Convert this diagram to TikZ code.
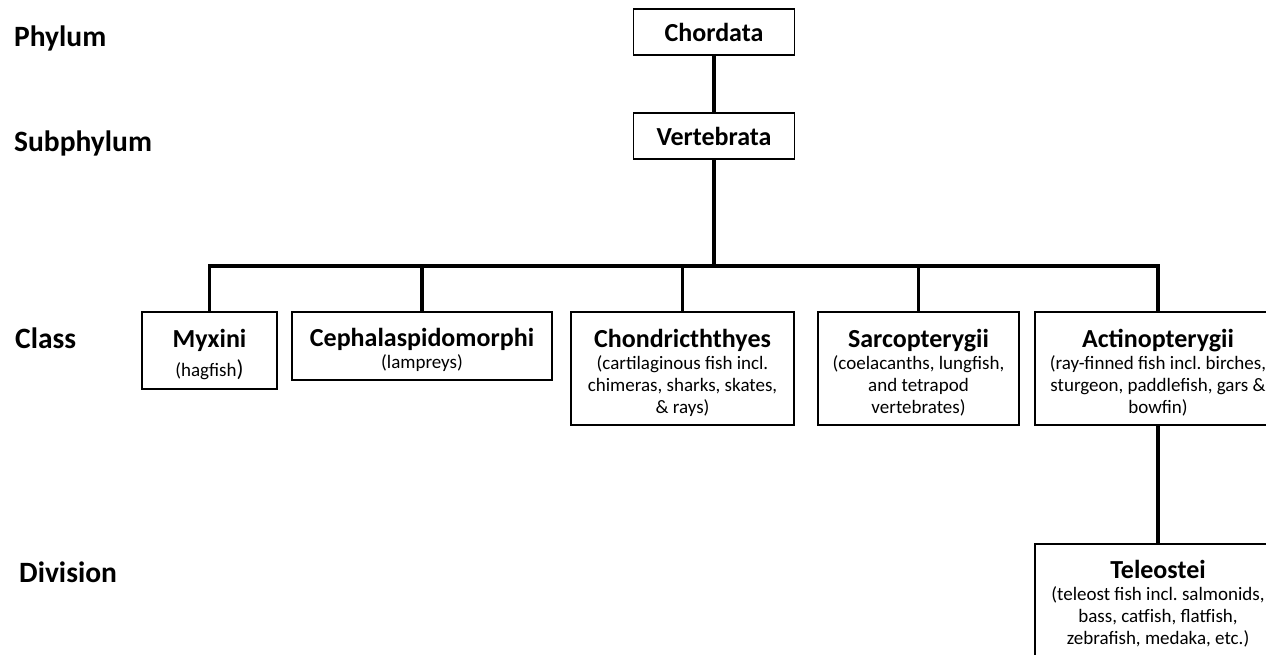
\documentclass[tikz,border=0pt]{standalone}
\usepackage{fontspec}
\setmainfont{Carlito}
\frenchspacing
\begin{document}
\begin{tikzpicture}[x=1pt,y=-1pt,
  rowlabel/.style={anchor=base west,inner sep=0pt,font=\fontsize{29.5}{32}\selectfont\bfseries},
  taxbox/.style={draw=black,line width=1.8pt,fill=white,inner sep=0pt,align=center,
     font=\fontsize{19}{22}\selectfont},
  conn/.style={line width=3.8pt,line join=miter,line cap=rect}]
\newcommand{\ttl}[1]{{\fontsize{26}{22}\selectfont\bfseries #1}}
\newcommand{\ctl}[1]{{\fontsize{26}{22}\selectfont\bfseries\rule{0pt}{27pt}#1}}
\useasboundingbox (0,0) rectangle (1266,655);
\clip (0,0) rectangle (1266,655);

% row labels
\node[rowlabel] (phylum) at (14,47) {Phylum};
\node[rowlabel] (subphylum) at (14,152) {Subphylum};
\node[rowlabel] (class) at (15,348) {Class};
\node[rowlabel] (division) at (19,582) {Division};

% boxes
\node[taxbox,minimum width=161pt,minimum height=46pt] (chordata) at (714,32) {\ttl{Chordata}};
\node[taxbox,minimum width=161pt,minimum height=46pt] (vertebrata) at (714,136) {\ttl{Vertebrata}};

\node[taxbox,minimum width=135pt,minimum height=77pt,anchor=north] (myxini) at (209.5,311)
  {\ctl{Myxini}\\[7pt](hagfish{\fontsize{23}{22}\selectfont)}};
\node[taxbox,minimum width=260pt,minimum height=68pt,anchor=north] (cephal) at (422,311)
  {\ctl{Cephalaspidomorphi}\\(lampreys)};
\node[taxbox,minimum width=223pt,minimum height=113pt,anchor=north] (chondr) at (682.5,311)
  {\ctl{Chondricththyes}\\(cartilaginous fish incl.\\chimeras, sharks, skates,\\\& rays)};
\node[taxbox,minimum width=201pt,minimum height=113pt,anchor=north] (sarco) at (918.5,311)
  {\ctl{Sarcopterygii}\\(coelacanths, lungfish,\\and tetrapod\\vertebrates)};
\node[taxbox,minimum width=246pt,minimum height=113pt,anchor=north] (actino) at (1158,311)
  {\ctl{Actinopterygii}\\(ray-finned fish incl. birches,\\sturgeon, paddlefish, gars \&\\bowfin)};
\node[taxbox,minimum width=246pt,minimum height=120pt,anchor=north] (teleo) at (1158,543)
  {\ttl{Teleostei}\\(teleost fish incl. salmonids,\\bass, catfish, flatfish,\\zebrafish, medaka, etc.)};

% connectors
\coordinate (bus) at (714,266);
\draw[conn] (chordata.south) -- (vertebrata.north);
\draw[conn] (vertebrata.south) -- (vertebrata.south |- bus);
\draw[conn] (myxini.north) -- (myxini.north |- bus) -- (actino.north |- bus) -- (actino.north);
\draw[conn] (cephal.north) -- (cephal.north |- bus);
\draw[conn] (chondr.north) -- (chondr.north |- bus);
\draw[conn] (sarco.north) -- (sarco.north |- bus);
\draw[conn] (actino.south) -- (teleo.north);
\end{tikzpicture}
\end{document}
